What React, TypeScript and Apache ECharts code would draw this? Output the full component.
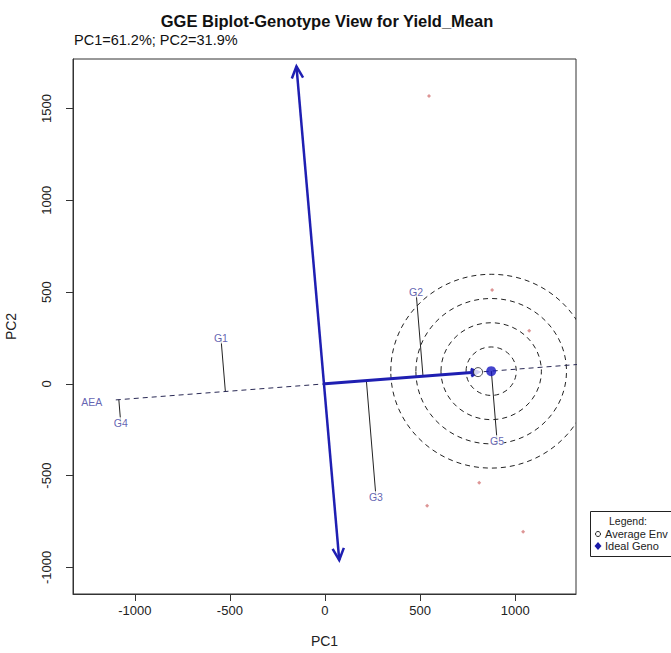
import React, { useEffect, useRef } from "react";
import * as echarts from "echarts";

// ---- data ----
const genotypes = ["G1", "G2", "G3", "G4", "G5"];
const genoPC1 = [-547, 479, 268, -1074, 905];
const genoPC2 = [250, 501, -615, -212, -310];

const envPC1 = [547, 879, 1074, 811, 537, 1042];
const envPC2 = [1569, 512, 289, -539, -664, -806];

const averageEnv = [805, 64];
const idealGeno = [874, 69];
const circleRadii = [132, 264, 396, 528];

// perpendicular (PC2-direction) axis arrow tips
const axisArrowTop = [-150, 1730];
const axisArrowBottom = [75, -960];

// AEA dashed line extent along PC1
const aeaExtent = [-1100, 1330];
const aeaLabel = [-1226, -98];

const xTicks = [-1000, -500, 0, 500, 1000];
const yTicks = [-1000, -500, 0, 500, 1000, 1500];

const FONT = "'Liberation Sans', Arial, sans-serif";
const BLUE = "#1f1fb2";
const LABEL_BLUE = "#3a3a9e";

export default function App() {
  const ref = useRef<HTMLDivElement>(null);

  useEffect(() => {
    if (!ref.current) return;
    const chart = echarts.init(ref.current, null, { renderer: "svg" });

    const slope = averageEnv[1] / averageEnv[0];
    const norm = Math.hypot(averageEnv[0], averageEnv[1]);
    const dx = averageEnv[0] / norm;
    const dy = averageEnv[1] / norm;

    const projData = genotypes.map((_, i) => {
      const t = genoPC1[i] * dx + genoPC2[i] * dy;
      return [genoPC1[i], genoPC2[i], t * dx, t * dy];
    });

    const arrowData = [
      // x1, y1, x2, y2, bothEnds, width, headLen
      [axisArrowBottom[0], axisArrowBottom[1], axisArrowTop[0], axisArrowTop[1], 1, 2.5, 13],
      [0, 0, averageEnv[0], averageEnv[1], 0, 3, 8],
    ];

    const head = (from: number[], to: number[], len: number) => {
      const a = Math.atan2(to[1] - from[1], to[0] - from[0]);
      const sp = Math.PI / 7;
      return [
        [to[0] - len * Math.cos(a - sp), to[1] - len * Math.sin(a - sp)],
        [to[0], to[1]],
        [to[0] - len * Math.cos(a + sp), to[1] - len * Math.sin(a + sp)],
      ];
    };

    const option: any = {
      animation: false,
      backgroundColor: "#ffffff",
      title: {
        text: "GGE Biplot-Genotype View for Yield_Mean",
        left: 322,
        top: 7,
        textAlign: "center",
        textStyle: { fontFamily: FONT, fontSize: 16.5, fontWeight: "bold", color: "#111" },
      },
      grid: {
        left: 73,
        top: 59,
        width: 503,
        height: 535,
        show: true,
        borderColor: "#333",
        borderWidth: 1,
        backgroundColor: "transparent",
        containLabel: false,
        outerBoundsMode: "none",
      },
      xAxis: {
        type: "value",
        min: -1325,
        max: 1320,
        name: "PC1",
        nameLocation: "middle",
        nameGap: 40,
        nameTextStyle: { fontFamily: FONT, fontSize: 14, color: "#222" },
        axisLine: { show: true, onZero: false, lineStyle: { color: "#333" } },
        axisTick: { show: true, customValues: xTicks, length: 7, lineStyle: { color: "#333" } },
        axisLabel: {
          customValues: xTicks,
          margin: 10,
          fontFamily: FONT,
          fontSize: 13,
          color: "#222",
          formatter: (v: number) => String(v),
        },
        splitLine: { show: false },
      },
      yAxis: {
        type: "value",
        min: -1145,
        max: 1770,
        name: "PC2",
        nameLocation: "middle",
        nameGap: 55,
        nameRotate: 90,
        nameTextStyle: { fontFamily: FONT, fontSize: 14, color: "#222" },
        axisLine: { show: true, onZero: false, lineStyle: { color: "#333" } },
        axisTick: { show: true, customValues: yTicks, length: 7, lineStyle: { color: "#333" } },
        axisLabel: {
          customValues: yTicks,
          rotate: 90,
          margin: 20,
          fontFamily: FONT,
          fontSize: 13,
          color: "#222",
          formatter: (v: number) => String(v),
        },
        splitLine: { show: false },
      },
      graphic: [
        {
          type: "text",
          x: 74,
          y: 40,
          style: {
            text: "PC1=61.2%; PC2=31.9%",
            font: `14.5px ${FONT}`,
            fill: "#111",
            textVerticalAlign: "middle",
          },
        },
        {
          type: "rect",
          shape: { x: 590.5, y: 511.5, width: 100, height: 45 },
          style: { fill: "#fff", stroke: "#222", lineWidth: 1 },
        },
        {
          type: "text",
          x: 628,
          y: 521,
          style: { text: "Legend:", font: `10.5px ${FONT}`, fill: "#222", textAlign: "center", textVerticalAlign: "middle" },
        },
        {
          type: "circle",
          shape: { cx: 598, cy: 534, r: 2.5 },
          style: { fill: "#fff", stroke: "#222", lineWidth: 1 },
        },
        {
          type: "text",
          x: 605,
          y: 534,
          style: { text: "Average Env", font: `11px ${FONT}`, fill: "#222", textVerticalAlign: "middle" },
        },
        {
          type: "polygon",
          shape: { points: [[598, 542], [601.5, 546], [598, 550], [594.5, 546]] },
          style: { fill: "#1a1aa8" },
        },
        {
          type: "text",
          x: 605,
          y: 546,
          style: { text: "Ideal Geno", font: `11px ${FONT}`, fill: "#222", textVerticalAlign: "middle" },
        },
      ],
      series: [
        {
          name: "circles",
          type: "custom",
          clip: true,
          coordinateSystem: "cartesian2d",
          encode: { x: 0, y: 1 },
          data: circleRadii.map((r) => [idealGeno[0], idealGeno[1], r]),
          renderItem: (params: any, api: any) => {
            const c = api.coord([api.value(0), api.value(1)]);
            const s = api.size([api.value(2), api.value(2)]);
            return {
              type: "ellipse",
              shape: { cx: c[0], cy: c[1], rx: s[0], ry: s[1] },
              style: { fill: "none", stroke: "#222", lineWidth: 1, lineDash: [5, 4] },
            };
          },
          silent: true,
          z: 2,
        },
        {
          name: "AEA",
          type: "line",
          data: aeaExtent.map((x) => [x, x * slope]),
          symbol: "none",
          lineStyle: { color: "#2a2a55", width: 1, type: [5, 4] },
          silent: true,
          z: 3,
        },
        {
          name: "projections",
          type: "custom",
          clip: true,
          coordinateSystem: "cartesian2d",
          encode: { x: [0, 2], y: [1, 3] },
          data: projData,
          renderItem: (params: any, api: any) => {
            const p1 = api.coord([api.value(0), api.value(1)]);
            const p2 = api.coord([api.value(2), api.value(3)]);
            return {
              type: "line",
              shape: { x1: p1[0], y1: p1[1], x2: p2[0], y2: p2[1] },
              style: { stroke: "#222", lineWidth: 1 },
            };
          },
          silent: true,
          z: 3,
        },
        {
          name: "arrows",
          type: "custom",
          clip: false,
          coordinateSystem: "cartesian2d",
          encode: { x: [0, 2], y: [1, 3] },
          data: arrowData,
          renderItem: (params: any, api: any) => {
            const p1 = api.coord([api.value(0), api.value(1)]);
            const p2 = api.coord([api.value(2), api.value(3)]);
            const both = api.value(4);
            const w = api.value(5);
            const hl = api.value(6);
            const children: any[] = [
              {
                type: "line",
                shape: { x1: p1[0], y1: p1[1], x2: p2[0], y2: p2[1] },
                style: { stroke: BLUE, lineWidth: w },
              },
              {
                type: "polyline",
                shape: { points: head(p1, p2, hl) },
                style: { stroke: BLUE, lineWidth: w, fill: "none" },
              },
            ];
            if (both) {
              children.push({
                type: "polyline",
                shape: { points: head(p2, p1, hl) },
                style: { stroke: BLUE, lineWidth: w, fill: "none" },
              });
            }
            return { type: "group", children };
          },
          silent: true,
          z: 4,
        },
        {
          name: "Environments",
          type: "scatter",
          data: envPC1.map((x, i) => [x, envPC2[i]]),
          symbol: "diamond",
          symbolSize: 4,
          itemStyle: { color: "#d47a7a" },
          z: 5,
        },
        {
          name: "Genotypes",
          type: "scatter",
          data: genotypes.map((g, i) => ({ name: g, value: [genoPC1[i], genoPC2[i]] })),
          symbolSize: 1,
          itemStyle: { color: "transparent" },
          label: {
            show: true,
            position: "inside",
            formatter: (p: any) => p.name,
            fontFamily: FONT,
            fontSize: 10.5,
            color: LABEL_BLUE,
            backgroundColor: "#fff",
          },
          z: 6,
        },
        {
          name: "AEA label",
          type: "scatter",
          data: [{ name: "AEA", value: aeaLabel }],
          symbolSize: 1,
          itemStyle: { color: "transparent" },
          label: {
            show: true,
            position: "inside",
            formatter: "AEA",
            fontFamily: FONT,
            fontSize: 10.5,
            color: LABEL_BLUE,
          },
          z: 6,
        },
        {
          name: "Average Env",
          type: "scatter",
          data: [averageEnv],
          symbol: "circle",
          symbolSize: 9,
          itemStyle: { color: "#fff", borderColor: "#222", borderWidth: 1 },
          z: 7,
        },
        {
          name: "Ideal Geno",
          type: "scatter",
          data: [idealGeno],
          symbol: "circle",
          symbolSize: 10,
          itemStyle: { color: "#1515c0" },
          z: 7,
        },
      ],
    };

    chart.setOption(option);
    return () => chart.dispose();
  }, []);

  return (
    <div
      ref={ref}
      style={{ position: "absolute", left: 0, top: 0, width: 671, height: 653, background: "#fff" }}
    />
  );
}
